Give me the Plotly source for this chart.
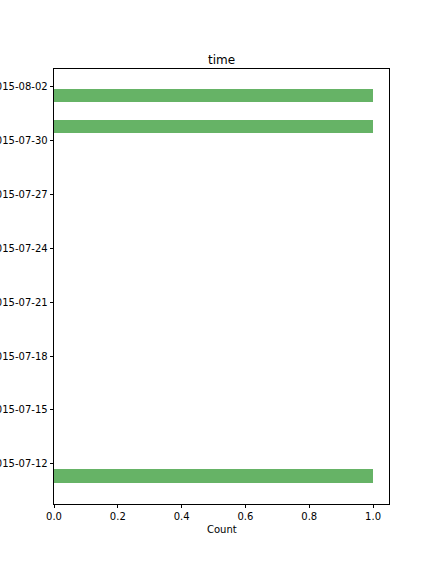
import plotly.graph_objects as go

# Data
bin_centers = ["2015-07-11 07:10", "2015-07-30 19:20", "2015-08-01 12:30"]
counts = [1, 1, 1]
bar_width_days = 0.75
y_range = ["2015-07-09 18:00", "2015-08-03 00:00"]
x_ticks = [0.0, 0.2, 0.4, 0.6, 0.8, 1.0]
x_tick_labels = ["0.0", "0.2", "0.4", "0.6", "0.8", "1.0"]

DAY_MS = 86400000

fig = go.Figure(
    go.Bar(
        y=bin_centers,
        x=counts,
        orientation="h",
        width=[bar_width_days * DAY_MS] * len(counts),
        marker=dict(color="rgb(102,179,102)", line=dict(width=0)),
    )
)

font = "DejaVu Sans, sans-serif"
fig.update_layout(
    width=432,
    height=576,
    margin=dict(l=54, r=43, t=69, b=72, autoexpand=False),
    paper_bgcolor="white",
    plot_bgcolor="white",
    font=dict(family=font, size=10, color="black"),
    showlegend=False,
    bargap=0,
)
fig.update_xaxes(
    range=[0, 1.05],
    tickvals=x_ticks,
    ticktext=x_tick_labels,
    ticks="outside",
    ticklen=3.5,
    tickwidth=0.8,
    tickcolor="black",
    showline=True,
    linecolor="black",
    linewidth=0.8,
    mirror=True,
    showgrid=False,
    zeroline=False,
    automargin=False,
)
fig.update_yaxes(
    type="date",
    range=y_range,
    tick0="2015-07-12",
    dtick=3 * DAY_MS,
    tickformat="%Y-%m-%d",
    ticks="outside",
    ticklen=3.5,
    tickwidth=0.8,
    tickcolor="black",
    showline=True,
    linecolor="black",
    linewidth=0.8,
    mirror=True,
    showgrid=False,
    zeroline=False,
    automargin=False,
)
fig.add_annotation(
    text="time", xref="paper", yref="paper", x=0.5, y=1,
    xanchor="center", yanchor="bottom", yshift=0, showarrow=False,
    font=dict(family=font, size=12, color="black"),
)
fig.add_annotation(
    text="Count", xref="paper", yref="paper", x=0.5, y=0,
    xanchor="center", yanchor="top", yshift=-18, showarrow=False,
    font=dict(family=font, size=10, color="black"),
)

fig.write_html("out.html")
